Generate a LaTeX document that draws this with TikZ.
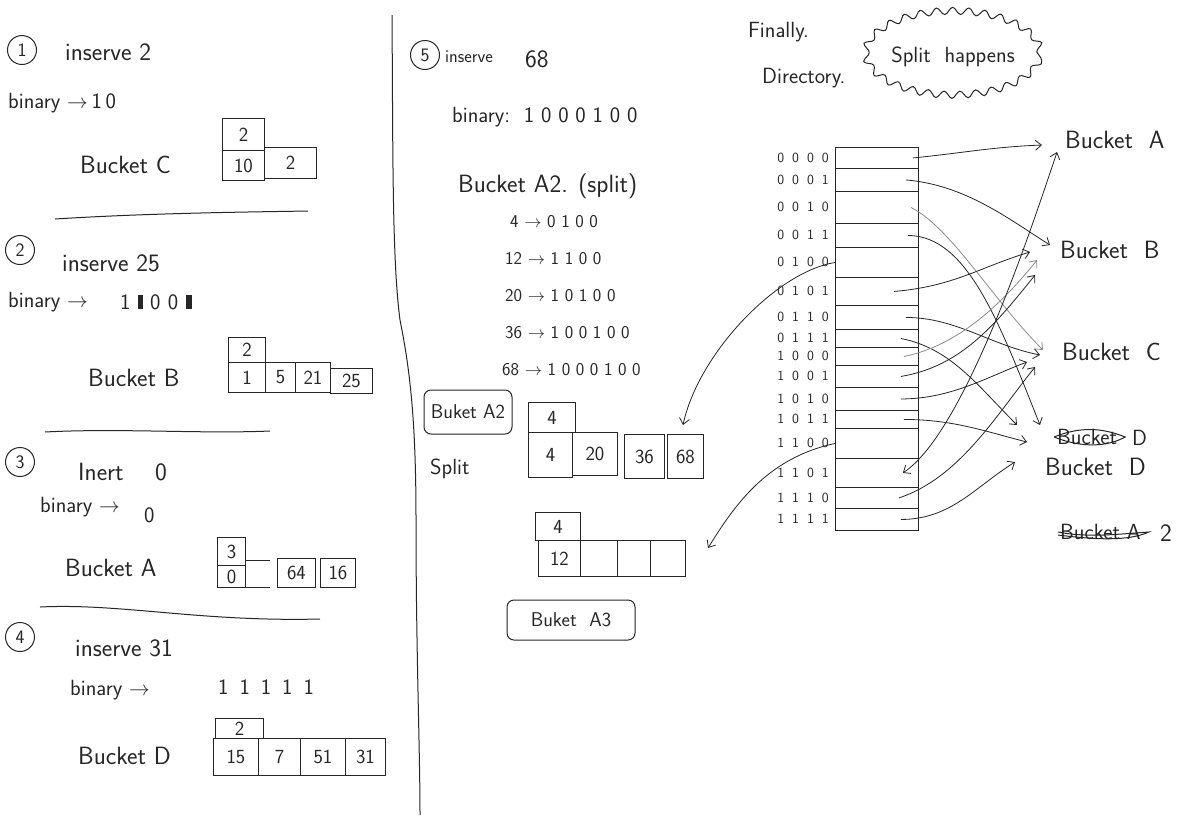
\documentclass[tikz,border=0pt]{standalone}
\usetikzlibrary{arrows.meta,decorations.pathmorphing,shapes.geometric,calc}
\newcommand{\bitspace}{\spaceskip=8pt\relax}
\begin{document}
\begin{tikzpicture}[x=1pt,y=-1pt,
  pen/.style={line width=1pt, draw=black!85},
  txt/.style={inner sep=0pt, anchor=west, text=black!85, font=\sffamily\fontsize{25}{27}\selectfont},
  mtxt/.style={txt, font=\sffamily\fontsize{22}{24}\selectfont},
  stxt/.style={txt, font=\sffamily\fontsize{18}{20}\selectfont},
  numc/.style={circle, draw=black!85, line width=1pt, minimum size=29pt, inner sep=0pt, text=black!85, font=\sffamily\fontsize{19}{19}\selectfont},
  cellbox/.style={draw=black!85, line width=0.9pt, inner sep=0pt, anchor=north west, text=black!85, font=\sffamily\fontsize{20}{20}\selectfont},
  bare/.style={inner sep=0pt, anchor=north west},
  dcell/.style={draw=black!85, line width=0.9pt, inner sep=0pt, anchor=north west, minimum width=83pt},
  bits/.style={inner sep=0pt, anchor=east, text=black!85, font=\sffamily\fontsize{14}{14}\selectfont},
  arr/.style={line width=0.8pt, draw=black!85, -{Straight Barb[length=6pt,width=10pt]}},
  grayarr/.style={arr, draw=black!45},
  tag/.style={draw=black!85, line width=1pt, rounded corners=7pt, inner sep=0pt, text=black!85, font=\sffamily\fontsize{20}{20}\selectfont}
]
\fill[white] (0,0) rectangle (1204,823);
\useasboundingbox (0,0) rectangle (1204,823);

% ---------- divider ----------
\draw[pen] (392,15) .. controls (393,150) and (392,260) .. (400,320)
  .. controls (410,370) and (416,420) .. (416,520)
  .. controls (416,650) and (420,750) .. (420,815);

% ---------- 1 ----------
\node[numc] (n1) at (22,50) {1};
\node[txt] (t1) at (65,52) {inserve 2};
\node[mtxt] (b1) at (8,103) {binary $\rightarrow$\,1\,0};
\node[txt] (k1) at (80,165) {Bucket C};
\node[cellbox, minimum width=42pt, minimum height=32pt] (c1t) at (222,118) {2};
\node[cellbox, minimum width=42pt, minimum height=30pt] (c1a) at (222,150) {10};
\node[cellbox, minimum width=52pt, minimum height=31pt] (c1b) at (264,147) {2};
\draw[pen] (55,219) .. controls (150,213) and (250,212) .. (308,211);

% ---------- 2 ----------
\node[numc] (n2) at (20,250) {2};
\node[txt] (t2) at (62,263) {inserve 25};
\node[mtxt] (b2) at (8,302) {binary $\rightarrow$};
\node[mtxt] (v2) at (120,302) {1\,\,\rule{5pt}{14pt}\,\,0\,\,0\,\,\rule{6pt}{14pt}};
\node[txt] (k2) at (88,378) {Bucket B};
\node[cellbox, minimum width=37pt, minimum height=25pt] (c2t) at (228,337) {2};
\node[cellbox, minimum width=37pt, minimum height=30pt] (c2a) at (228,362) {1};
\node[cellbox, minimum width=30pt, minimum height=30pt] (c2b) at (265,362) {5};
\node[cellbox, minimum width=35pt, minimum height=30pt] (c2c) at (295,362) {21};
\node[cellbox, minimum width=42pt, minimum height=25pt] (c2d) at (330,368) {25};
\draw[pen] (45,432) .. controls (120,428) and (200,434) .. (270,431);

% ---------- 3 ----------
\node[numc] (n3) at (20,462) {3};
\node[txt] (t3) at (78,472) {Inert};
\node[txt] (v3a) at (155,472) {0};
\node[mtxt] (b3) at (40,507) {binary $\rightarrow$};
\node[mtxt] (v3) at (144,515) {0};
\node[txt] (k3) at (65,568) {Bucket A};
\node[cellbox, minimum width=28pt, minimum height=28pt] (c3t) at (217,537) {3};
\node[cellbox, minimum width=28pt, minimum height=22pt] (c3a) at (217,565) {0};
\node[bare, minimum width=25pt, minimum height=27pt] (c3b) at (245,560) {};
\draw[pen] (c3b.north west) -- (c3b.north east) (c3b.south west) -- (c3b.south east);
\node[cellbox, minimum width=38pt, minimum height=29pt] (c3c) at (277,558) {64};
\node[cellbox, minimum width=35pt, minimum height=29pt] (c3d) at (320,558) {16};
\draw[pen] (40,607) .. controls (120,603) and (200,622) .. (320,619);

% ---------- 4 ----------
\node[numc] (n4) at (20,637) {4};
\node[txt] (t4) at (75,648) {inserve 31};
\node[mtxt] (b4) at (70,690) {binary $\rightarrow$};
\node[mtxt] (v4) at (218,687) {1\,\,\,1\,\,\,1\,\,\,1\,\,\,1};
\node[txt] (k4) at (78,756) {Bucket D};
\node[cellbox, minimum width=48pt, minimum height=20pt] (c4t) at (215,718) {2};
\node[cellbox, minimum width=45pt, minimum height=37pt] (c4a) at (213,738) {15};
\node[cellbox, minimum width=42pt, minimum height=37pt] (c4b) at (258,738) {7};
\node[cellbox, minimum width=45pt, minimum height=37pt] (c4c) at (300,738) {51};
\node[cellbox, minimum width=40pt, minimum height=37pt] (c4d) at (345,738) {31};

% ---------- 5 ----------
\node[numc] (n5) at (425,55) {5};
\node[stxt] (t5) at (445,57) {inserve};
\node[txt] (v5) at (525,59) {68};
\node[mtxt] (b5) at (452,117) {binary:\ \ 1 0 0 0 1 0 0};
\node[txt] (k5) at (458,186) {Bucket A2. (split)};
\node[stxt] (r1) at (510,222) {4 $\rightarrow$ 0 1 0 0};
\node[stxt] (r2) at (505,259) {12 $\rightarrow$ 1 1 0 0};
\node[stxt] (r3) at (505,296) {20 $\rightarrow$ 1 0 1 0 0};
\node[stxt] (r4) at (505,333) {36 $\rightarrow$ 1 0 0 1 0 0};
\node[stxt] (r5) at (502,370) {68 $\rightarrow$ 1 0 0 0 1 0 0};

\node[tag, minimum width=88pt, minimum height=44pt] (tagA2) at (468,412) {Buket A2};
\node[mtxt] (sp) at (430,469) {Split};
\node[cellbox, minimum width=47pt, minimum height=30pt] (a2t) at (528,402) {4};
\node[cellbox, minimum width=44pt, minimum height=45pt] (a2a) at (528,432) {4};
\node[cellbox, minimum width=45pt, minimum height=43pt] (a2b) at (572,432) {20};
\node[cellbox, minimum width=40pt, minimum height=44pt] (a2c) at (624,434) {36};
\node[cellbox, minimum width=36pt, minimum height=44pt] (a2d) at (667,434) {68};

\node[cellbox, minimum width=45pt, minimum height=28pt] (a3t) at (535,512) {4};
\node[cellbox, minimum width=42pt, minimum height=36pt] (a3a) at (538,540) {12};
\node[cellbox, minimum width=37pt, minimum height=36pt] (a3b) at (580,540) {};
\node[cellbox, minimum width=33pt, minimum height=36pt] (a3c) at (617,540) {};
\node[cellbox, minimum width=35pt, minimum height=36pt] (a3d) at (650,540) {};
\node[tag, minimum width=128pt, minimum height=40pt] (tagA3) at (571,620) {Buket\ \ A3};

% ---------- directory ----------
\node[mtxt] (fin) at (748,32) {Finally.};
\node[mtxt] (dir) at (762,78) {Directory.};
\node[draw=black!85, line width=1pt, ellipse, decorate,
      decoration={snake, amplitude=3.5pt, segment length=16pt},
      minimum width=160pt, minimum height=84pt, inner sep=0pt,
      text=black!85, font=\sffamily\fontsize{22}{22}\selectfont] (bub) at (953,57) {Split\ \ happens};

\foreach \i/\a/\b/\t in {0/147/168/0 0 0 0, 1/168/191/0 0 0 1, 2/191/223/0 0 1 0, 3/223/247/0 0 1 1,
  4/247/277/0 1 0 0, 5/277/305/0 1 0 1, 6/305/329/0 1 1 0, 7/329/347/0 1 1 1,
  8/347/365/1 0 0 0, 9/365/387/1 0 0 1, 10/387/410/1 0 1 0, 11/410/428/1 0 1 1,
  12/428/458/1 1 0 0, 13/458/487/1 1 0 1, 14/487/508/1 1 1 0, 15/508/530/1 1 1 1}{
  \node[dcell, minimum height={(\b-\a)*1pt}] (d\i) at (835,\a) {};
  \node[bits] (l\i) at (829,{(\a+\b)/2}) {\bitspace\t};
}

% ---------- bucket labels ----------
\node[txt] (bA) at (1065,140) {Bucket\ \ A};
\node[txt] (bB) at (1060,250) {Bucket\ \ B};
\node[txt] (bC) at (1062,352) {Bucket\ \ C};
\node[mtxt] (bDx) at (1057,437) {Bucket};
\node[mtxt] (bDxd) at (1132,438) {D};
\draw[line width=1pt, black!85] ([xshift=-3pt]bDx.west) .. controls +(25,-10) and +(-25,-10) .. ([xshift=8pt]bDx.east)
  .. controls +(-20,11) and +(25,10) .. ([xshift=-3pt]bDx.west);
\node[txt] (bD) at (1045,467) {Bucket\ \ D};
\node[mtxt] (bA2x) at (1060,532) {Bucket A};
\node[txt] (bA2xd) at (1160,533) {2};
\draw[line width=1pt, black!85] ([xshift=-2pt]bA2x.west) .. controls +(30,6) and +(-30,2) .. ([xshift=8pt]bA2x.east)
  .. controls +(-20,9) and +(40,5) .. ([xshift=-2pt,yshift=-3pt]bA2x.west);

% ---------- arrow heads ----------
\coordinate (hA1) at (1042,145);
\coordinate (hA2) at (1057,152);
\coordinate (hB1) at (1050,245);
\coordinate (hB2) at (1030,252);
\coordinate (hB3) at (1037,260);
\coordinate (hB4) at (1035,275);
\coordinate (hC1) at (1043,350);
\coordinate (hC2) at (1040,355);
\coordinate (hC3) at (1027,362);
\coordinate (hC4) at (1035,367);
\coordinate (hD1) at (1040,425);
\coordinate (hD2) at (1017,425);
\coordinate (hD3) at (1027,442);
\coordinate (hD4) at (1015,462);
\coordinate (pA2) at (683,425);
\coordinate (pA3) at (708,548);

% ---------- connectors ----------
\draw[arr] ([xshift=-6pt]d0.east) .. controls +(50,-5) and +(-50,2) .. (hA1);
\draw[arr] ([xshift=-13pt]d1.east) .. controls +(60,5) and +(-40,-25) .. (hB1);
\draw[grayarr] ([xshift=-8pt]d2.east) .. controls +(40,20) and +(-50,-50) .. (hC1);
\draw[arr] ([xshift=-11pt]d3.east) .. controls +(60,0) and +(-40,-100) .. (hD1);
\draw[arr] (d4.west) .. controls +(-60,10) and +(15,-70) .. (pA2);
\draw[arr] ([xshift=-25pt]d5.east) .. controls +(60,-5) and +(-50,15) .. (hB2);
\draw[arr] ([xshift=-13pt]d6.east) .. controls +(50,0) and +(-50,-10) .. (hC2);
\draw[arr] ([xshift=-18pt]d7.east) .. controls +(50,10) and +(-40,-40) .. (hD2);
\draw[grayarr] ([xshift=-15pt]d8.east) .. controls +(50,-10) and +(-40,50) .. (hB3);
\draw[arr] ([xshift=-18pt]d9.east) .. controls +(60,-10) and +(-40,50) .. (hB4);
\draw[arr] ([xshift=-18pt]d10.east) .. controls +(50,0) and +(-40,15) .. (hC3);
\draw[arr] ([xshift=-15pt]d11.east) .. controls +(50,0) and +(-40,-10) .. (hD3);
\draw[arr] (d12.west) .. controls +(-70,15) and +(25,-40) .. (pA3);
\draw[arr, {Straight Barb[length=6pt,width=10pt]}-{Straight Barb[length=6pt,width=10pt]}] ([xshift=-16pt]d13.east) .. controls +(60,-40) and +(-30,90) .. (hA2);
\draw[arr] ([xshift=-20pt]d14.east) .. controls +(60,-20) and +(-40,50) .. (hC4);
\draw[arr] ([xshift=-18pt]d15.east) .. controls +(50,0) and +(-40,25) .. (hD4);
\end{tikzpicture}
\end{document}
